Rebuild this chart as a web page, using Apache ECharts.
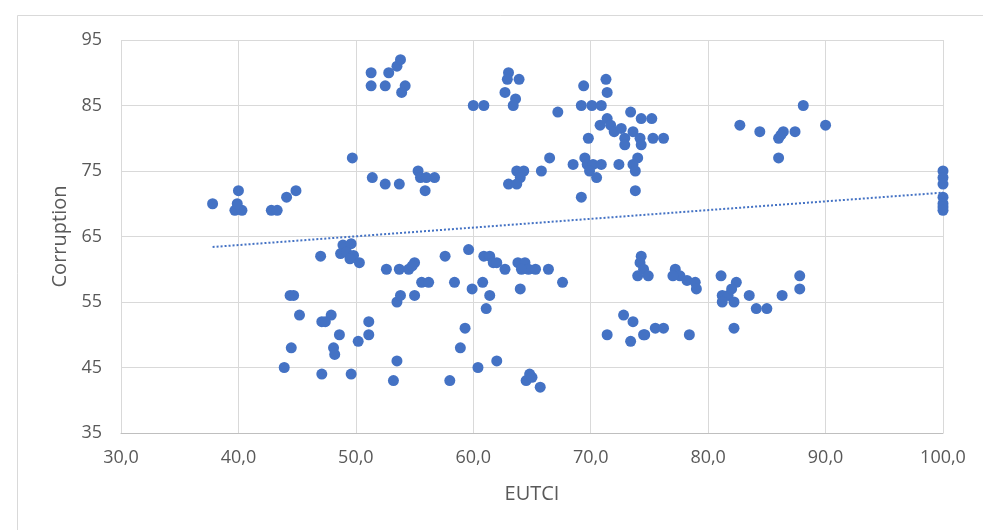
<!DOCTYPE html>
<html>
<head>
<meta charset="utf-8">
<script src="https://cdn.jsdelivr.net/npm/echarts@6/dist/echarts.min.js"></script>
<style>
  html, body { margin: 0; padding: 0; background: #fff; }
  #chart { width: 983px; height: 530px; }
</style>
</head>
<body>
<div id="chart"></div>
<script>
// values
const eutci = [
  37.8, 40.0, 39.7, 40.3, 39.9, 42.8, 43.3, 44.1, 44.9,
  51.3, 51.3, 52.5, 52.8, 53.5, 53.8, 54.2, 53.9,
  49.7, 51.4, 52.5, 53.7, 55.3, 55.5, 56.0, 56.7, 55.9,
  60.0, 60.9, 63.0, 62.9, 63.9, 62.7, 63.6, 63.4,
  67.2, 69.4, 69.2, 70.1, 70.9, 71.3, 71.4, 69.8,
  70.8, 71.4, 71.7, 72.0, 72.6, 72.9, 73.4, 73.6, 74.3, 74.2, 72.9, 74.3, 75.2, 75.3, 76.2,
  66.5, 65.8, 63.7, 64.3, 64.0, 63.0, 63.7, 68.5, 69.5, 69.7, 70.2, 70.9, 69.9, 70.5,
  72.4, 74.0, 73.6, 73.8, 73.8, 69.2,
  82.7, 84.4, 86.0, 86.4, 86.2, 87.4, 88.1, 90.0, 86.0,
  100, 100, 100, 100, 100, 100, 100,
  47.0, 44.4, 44.7, 45.2, 47.1, 44.5, 43.9, 47.1,
  48.9, 49.6, 48.7, 49.2, 49.8, 49.5, 50.3,
  52.6, 53.7, 54.5, 55.0, 54.8, 55.6, 56.2, 55.0, 53.5, 53.8,
  57.6, 59.6, 58.4, 59.9, 60.9, 61.4, 61.7, 62.0, 62.7, 60.8, 61.4, 61.1,
  63.8, 64.4, 64.7, 65.3, 64.1, 66.4, 67.6, 64.0,
  47.9, 47.4, 48.6, 48.1, 48.2, 50.2, 51.1, 51.1, 49.6, 53.5, 53.2, 58.0, 59.3, 58.9,
  60.4, 62.0, 64.8, 64.5, 65.0, 65.7,
  71.4, 72.8, 73.6, 73.4, 74.5,
  74.3, 74.2, 74.5, 74.0, 74.9,
  77.2, 77.6, 78.2, 78.9, 79.0, 77.0,
  75.5, 76.2, 74.6, 78.4,
  81.1, 81.2, 81.7, 82.2, 81.2, 82.4, 82.0, 83.5, 84.1, 85.0, 86.3, 87.8, 87.8, 82.2
];
const corruption = [
  70, 72, 69, 69, 70, 69, 69, 71, 72,
  90, 88, 88, 90, 91, 92, 88, 87,
  77, 74, 73, 73, 75, 74, 74, 74, 72,
  85, 85, 90, 89, 89, 87, 86, 85,
  84, 88, 85, 85, 85, 89, 87, 80,
  82, 83, 82, 81, 81.5, 80, 84, 81, 83, 80, 79, 79, 83, 80, 80,
  77, 75, 75, 75, 74, 73, 73, 76, 77, 76, 76, 76, 75, 74,
  76, 77, 76, 75, 72, 71,
  82, 81, 80, 81, 80.5, 81, 85, 82, 77,
  75, 74, 73, 71, 70, 69.5, 69,
  62, 56, 56, 53, 52, 48, 45, 44,
  63.7, 63.9, 62.4, 62.6, 62.1, 61.6, 61,
  60, 60, 60, 61, 60.5, 58, 58, 56, 55, 56,
  62, 63, 58, 57, 62, 62, 61, 61, 60, 58, 56, 54,
  61, 61, 60, 60, 60, 60, 58, 57,
  53, 52, 50, 48, 47, 49, 52, 50, 44, 46, 43, 43, 51, 48,
  45, 46, 44, 43, 43.5, 42,
  50, 53, 52, 49, 50,
  62, 61, 60, 59, 59,
  60, 59, 58.3, 58, 57, 59,
  51, 51, 50, 50,
  59, 56, 56, 55, 55, 58, 57, 56, 54, 54, 56, 59, 57, 51
];
// linear trendline end points
const trendX = [37.8, 100];
const trendY = [63.4, 71.7];

const xTicks = { min: 30, max: 100, interval: 10 };
const yTicks = { min: 35, max: 95, interval: 10 };

const blue = '#4472C4';
const labelFont = '"Open Sans", sans-serif';

const chart = echarts.init(document.getElementById('chart'), null, { renderer: 'canvas' });

chart.setOption({
  animation: false,
  backgroundColor: '#fff',
  graphic: [{
    type: 'rect',
    left: 15, top: 13,
    shape: { width: 1000, height: 600 },
    style: { fill: 'none', stroke: '#d9d9d9', lineWidth: 1 },
    silent: true
  }],
  grid: { left: 121, right: 40, top: 40, bottom: 97 },
  xAxis: {
    type: 'value',
    min: xTicks.min, max: xTicks.max, interval: xTicks.interval,
    name: 'EUTCI',
    nameLocation: 'middle',
    nameGap: 51,
    nameTextStyle: { color: '#595959', fontSize: 20, fontFamily: labelFont },
    axisLine: { show: true, lineStyle: { color: '#bfbfbf' } },
    axisTick: { show: false },
    axisLabel: {
      color: '#595959', fontSize: 18, fontFamily: labelFont, margin: 16,
      formatter: v => v.toFixed(1).replace('.', ',')
    },
    splitLine: { show: true, lineStyle: { color: '#d9d9d9' } }
  },
  yAxis: {
    type: 'value',
    min: yTicks.min, max: yTicks.max, interval: yTicks.interval,
    name: 'Corruption',
    nameLocation: 'middle',
    nameGap: 50,
    nameTextStyle: { color: '#595959', fontSize: 20, fontFamily: labelFont },
    axisLine: { show: false },
    axisTick: { show: false },
    axisLabel: { color: '#595959', fontSize: 18, fontFamily: labelFont, margin: 19 },
    splitLine: { show: true, lineStyle: { color: '#d9d9d9' } }
  },
  series: [
    {
      type: 'scatter',
      symbol: 'circle',
      symbolSize: 11,
      itemStyle: { color: blue, opacity: 1 },
      data: eutci.map((x, i) => [x, corruption[i]])
    },
    {
      type: 'line',
      symbol: 'none',
      z: 3,
      lineStyle: { color: blue, width: 2, type: 'dotted' },
      data: trendX.map((x, i) => [x, trendY[i]])
    }
  ]
});
</script>
</body>
</html>
